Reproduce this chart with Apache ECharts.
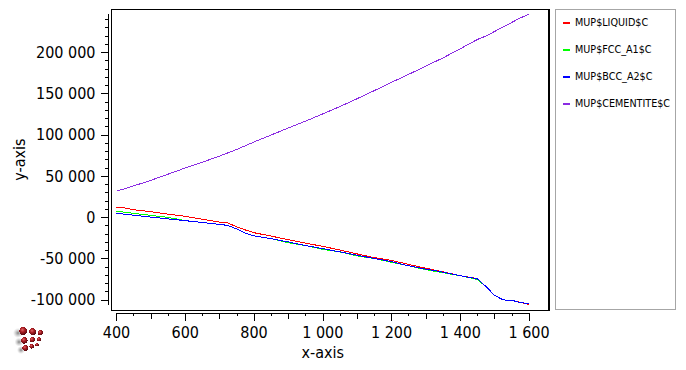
<!DOCTYPE html>
<html>
<head>
<meta charset="utf-8">
<style>
html,body{margin:0;padding:0;background:#fff;}
#c{width:686px;height:370px;}
#c path,#c rect{shape-rendering:crispEdges;}
</style>
<script src="https://cdn.jsdelivr.net/npm/echarts@6/dist/echarts.min.js"></script>
</head>
<body>
<div id="c"></div>
<script>
const temperatures = [400,425,450,500,550,600,650,700,722,750,775,800,850,900,950,1000,1050,1100,1150,1200,1250,1300,1350,1400,1450,1475,1500,1525,1550,1575,1600];
const liquid = [12400,11500,9400,7000,4000,1400,-2200,-5700,-6300,-11500,-15200,-18500,-22600,-27000,-31200,-35000,-39500,-44200,-48700,-52000,-57000,-61500,-66000,-70500,-74200,-83800,-94500,-100000,-100400,-103000,-105500];
const fcc = [7500,6300,5000,2500,100,-3900,-6000,-8500,-9500,-14000,-19000,-22300,-25700,-30700,-34000,-38700,-41700,-46600,-49700,-54300,-58600,-63300,-67000,-70600,-75200,-83800,-94500,-100000,-100400,-103200,-104500];
const bcc = [5000,3900,2800,500,-1700,-3900,-6000,-8500,-9500,-14000,-19000,-22300,-25700,-29700,-34000,-37800,-41700,-45800,-49700,-53500,-58600,-62600,-66300,-70600,-74400,-83800,-94500,-100000,-100400,-103200,-104500];
const cementite = [32000,35000,38300,45000,52500,60000,67000,74500,78000,82500,87000,91500,100000,108500,116800,125500,134500,144000,153800,163800,173500,183500,193500,204500,215800,220000,225500,231000,236500,242000,246300];
const seriesNames = ['MUP$LIQUID$C','MUP$FCC_A1$C','MUP$BCC_A2$C','MUP$CEMENTITE$C'];
const seriesColors = ['#ff0000','#00ff00','#0000ff','#8a2be2'];
const xMajor = [400,600,800,1000,1200,1400,1600];
const xMiddle = [500,700,900,1100,1300,1500];
const xMinor = [450,550,650,750,850,950,1050,1150,1250,1350,1450,1550];
const yMajor = [-100000,-50000,0,50000,100000,150000,200000];
const yMinor = [-90000,-80000,-70000,-60000,-40000,-30000,-20000,-10000,10000,20000,30000,40000,60000,70000,80000,90000,110000,120000,130000,140000,160000,170000,180000,190000,210000,220000,230000,240000];

const FONT = '"DejaVu Sans Condensed", "DejaVu Sans", sans-serif';
const fmt = v => {
  const s = String(Math.abs(v)).replace(/\B(?=(\d{3})+$)/g, ' ');
  return (v < 0 ? '-' : '') + s;
};
const pair = a => temperatures.map((t, i) => [t, a[i]]);
const dataSets = [liquid, fcc, bcc, cementite];
const axisLine = {show:true, onZero:false, lineStyle:{color:'#000', width:1}};
const noLine = {show:false, onZero:false};

function xAxis(ticks, len, main) {
  return {
    type:'value', min:400, max:1600, offset:8, position:'bottom',
    splitLine:{show:false}, axisLine: main ? axisLine : noLine,
    axisTick:{show:true, length:len, customValues:ticks, lineStyle:{color:'#000', width:1}},
    axisLabel: main ? {show:true, customValues:ticks, formatter:fmt, margin:12, hideOverlap:false,
                       showMinLabel:true, showMaxLabel:true, color:'#000', fontFamily:FONT, fontSize:16}
                    : {show:false},
    name: main ? 'x-axis' : '', nameLocation:'middle', nameGap:32, nameMoveOverlap:false,
    nameTextStyle:{color:'#000', fontFamily:FONT, fontSize:16}
  };
}
function yAxis(ticks, len, main) {
  return {
    type:'value', min:-106000, max:246300, offset:8, position:'left',
    splitLine:{show:false}, axisLine: main ? axisLine : noLine,
    axisTick:{show:true, length:len, customValues:ticks, lineStyle:{color:'#000', width:1}},
    axisLabel: main ? {show:true, customValues:ticks, formatter:fmt, margin:13, hideOverlap:false,
                       color:'#000', fontFamily:FONT, fontSize:16}
                    : {show:false},
    name: main ? 'y-axis' : '', nameLocation:'middle', nameGap:81, nameRotate:90, nameMoveOverlap:false,
    nameTextStyle:{color:'#000', fontFamily:FONT, fontSize:16}
  };
}

const spheres = [
  [18,333,5,'s'],[19,342,4.5,'s'],[21,350,4,'s'],
  [23.3,331,4,'r'],[32.7,331.7,3.5,'r'],[40.3,332.7,2.7,'r'],
  [24.3,340.3,3.3,'r'],[32.3,339.7,2.8,'r'],[39,339.3,2.2,'r'],
  [25.3,348,3,'r'],[31.7,346.3,2.3,'r'],[37,344.7,1.8,'r']
];
const logo = spheres.map(([cx,cy,r,k]) => ({
  type:'circle', silent:true, shape:{cx,cy,r},
  style:{fill: k === 's'
    ? {type:'radial',x:.5,y:.5,r:.5,colorStops:[{offset:0,color:'rgba(90,90,90,.75)'},{offset:1,color:'rgba(160,160,160,0)'}]}
    : {type:'radial',x:.4,y:.35,r:.65,colorStops:[{offset:0,color:'#e06a6a'},{offset:.45,color:'#a81c22'},{offset:1,color:'#560b10'}]}}
}));

const chart = echarts.init(document.getElementById('c'), null, {renderer:'svg'});
chart.setOption({
  animation:false,
  backgroundColor:'#fff',
  grid:{left:116.5, top:14.3, width:412.5, height:290.6, containLabel:false, outerBoundsMode:'none'},
  xAxis:[xAxis(xMajor,8,true), xAxis(xMiddle,6,false), xAxis(xMinor,3,false)],
  yAxis:[yAxis(yMajor,8,true), yAxis(yMinor,4,false)],
  legend:{
    show:true, orient:'vertical', left:563, top:17, padding:0, icon:'rect',
    itemWidth:7, itemHeight:2, itemGap:16, selectedMode:false,
    data:seriesNames.map((name,i)=>({name, icon:'rect', itemStyle:{color:seriesColors[i], borderWidth:0, opacity:1}})),
    textStyle:{color:'#000', fontFamily:FONT, fontSize:10.7}
  },
  graphic:[
    {type:'rect', silent:true, shape:{x:111.5,y:9.5,width:437.5,height:301}, style:{fill:'none',stroke:'#000',lineWidth:1.5}},
    {type:'rect', silent:true, shape:{x:555.5,y:9.5,width:120,height:300}, style:{fill:'none',stroke:'#a6a6a6',lineWidth:1}},
    ...logo
  ],
  series:seriesNames.map((name,i)=>({
    name, type:'line', data:pair(dataSets[i]), symbol:'none', showSymbol:false, silent:true,
    color:seriesColors[i], lineStyle:{color:seriesColors[i], width:1}, clip:false, z:2+i
  }))
});
</script>
</body>
</html>
